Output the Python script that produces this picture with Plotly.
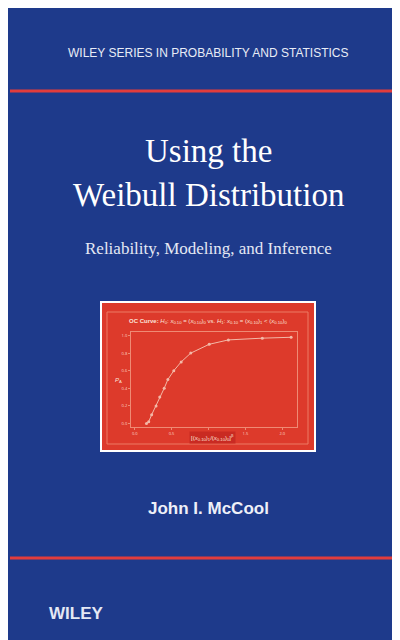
import plotly.graph_objects as go

# OC curve points
ratio = [0.16, 0.19, 0.23, 0.29, 0.34, 0.40, 0.45, 0.53, 0.63, 0.76, 1.01, 1.27, 1.73, 2.12]
prob = [0.0, 0.02, 0.10, 0.20, 0.30, 0.40, 0.50, 0.60, 0.70, 0.80, 0.90, 0.95, 0.97, 0.98]
x_ticks = [0.0, 0.5, 1.0, 1.5, 2.0]
y_ticks = [0.0, 0.2, 0.4, 0.6, 0.8, 1.0]

W, H = 400, 640
BLUE = '#1e3a8b'
RED = '#dd3a2b'
PALE = '#f3b9a8'


def px(x):
	return x / W


def py(y):
	return 1 - y / H


fig = go.Figure()
fig.add_trace(go.Scatter(x=ratio, y=prob, mode='lines+markers',
	line=dict(color=PALE, width=1), marker=dict(color=PALE, size=3),
	hoverinfo='skip'))

shapes = []
# red rules
for yy in [83, 550]:
	shapes.append(dict(type='rect', xref='paper', yref='paper',
		x0=px(2), x1=px(398), y0=py(yy + 1.5), y1=py(yy - 1.5),
		fillcolor='#e23c3c', line=dict(width=0), layer='below'))
# red picture with white frame
shapes.append(dict(type='rect', xref='paper', yref='paper',
	x0=px(93), x1=px(307), y0=py(443), y1=py(294),
	fillcolor=RED, line=dict(color='white', width=2), layer='below'))
# inner light frame
shapes.append(dict(type='rect', xref='paper', yref='paper',
	x0=px(99), x1=px(300), y0=py(436), y1=py(304),
	fillcolor='rgba(0,0,0,0)', line=dict(color='#ec7a64', width=1), layer='below'))

ann = [
	dict(text='WILEY SERIES IN PROBABILITY AND STATISTICS', x=0.5, y=py(45),
		font=dict(family='Liberation Sans', size=12, color='#e8ecf6')),
	dict(text='Using the', x=0.5, y=py(143),
		font=dict(family='Liberation Serif', size=33, color='white')),
	dict(text='Weibull Distribution', x=0.5, y=py(187),
		font=dict(family='Liberation Serif', size=33, color='white')),
	dict(text='Reliability, Modeling, and Inference', x=0.5, y=py(240),
		font=dict(family='Liberation Serif', size=17, color='#e4e8f4')),
	dict(text='<b>John I. McCool</b>', x=0.5, y=py(500),
		font=dict(family='Liberation Sans', size=17, color='#eef0f8')),
	dict(text='<b>OC Curve:</b> <i>H</i><sub>0</sub>: <i>x</i><sub>0.10</sub> = (<i>x</i><sub>0.10</sub>)<sub>0</sub> vs. <i>H</i><sub>1</sub>: <i>x</i><sub>0.10</sub> = (<i>x</i><sub>0.10</sub>)<sub>1</sub> &lt; (<i>x</i><sub>0.10</sub>)<sub>0</sub>',
		x=0.5, y=py(313), font=dict(family='Liberation Sans', size=6, color='#fbe3da')),
	dict(text='[(<i>x</i><sub>0.10</sub>)<sub>1</sub>/(<i>x</i><sub>0.10</sub>)<sub>0</sub>]<sup>β</sup>',
		x=px(205), y=py(429), bgcolor='#c92a22',
		font=dict(family='Liberation Sans', size=6, color='#fbe3da')),
	dict(text='<i>P</i><sub>A</sub>', x=px(110), y=py(372),
		font=dict(family='Liberation Sans', size=6, color='#fbe3da')),
	dict(text='<b>WILEY</b>', x=px(68), y=py(605),
		font=dict(family='Liberation Sans', size=17, color='#e4e8f4')),
]
for a in ann:
	a.update(xref='paper', yref='paper', showarrow=False,
		xanchor='center', yanchor='middle')

fig.update_layout(
	width=W, height=H,
	margin=dict(l=0, r=0, t=0, b=0),
	paper_bgcolor=BLUE,
	plot_bgcolor='#d9302a',
	showlegend=False,
	shapes=shapes,
	annotations=ann,
	xaxis=dict(domain=[px(123), px(289)], range=[-0.05, 2.2], tickvals=x_ticks,
		ticktext=['0.0', '0.5', '1.0', '1.5', '2.0'], showgrid=False, zeroline=False,
		showline=True, mirror=True, linecolor='#ef8a74', linewidth=1,
		tickfont=dict(size=4, color='#fbd6c8'), ticks='outside', ticklen=2, tickcolor='#ef8a74'),
	yaxis=dict(domain=[py(419), py(324)], range=[-0.04, 1.04], tickvals=y_ticks,
		ticktext=['0.0', '0.2', '0.4', '0.6', '0.8', '1.0'], showgrid=False, zeroline=False,
		showline=True, mirror=True, linecolor='#ef8a74', linewidth=1,
		tickfont=dict(size=4, color='#fbd6c8'), ticks='outside', ticklen=2, tickcolor='#ef8a74'),
)

fig.write_html('out.html')
